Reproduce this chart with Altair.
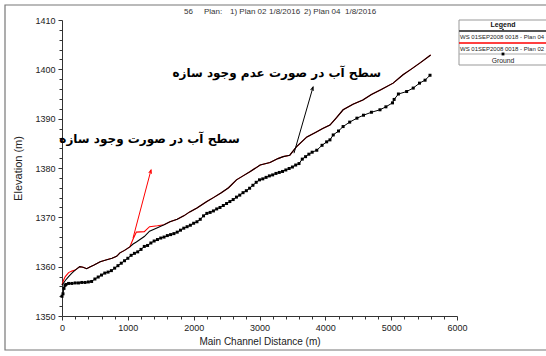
import altair as alt
import pandas as pd

# Water-surface profiles (distance in m, elevation in m)
ws_dist = [0, 25, 50, 100, 150, 200, 270, 320, 375, 430,
           480, 580, 680, 760, 830, 880, 950, 1030, 1080, 1130,
           1250, 1330, 1450, 1550, 1640, 1750, 1850, 1940, 2050, 2200,
           2300, 2420, 2530, 2650, 2750, 2860, 3010, 3160, 3280, 3360,
           3460, 3560, 3720, 3850, 3960, 4070, 4170, 4270, 4420, 4570,
           4700, 4850, 5030, 5180, 5300, 5450, 5600]
ws_plan04 = [1356.3, 1356.7, 1357.2, 1358.0, 1358.7, 1359.3, 1360.0, 1359.9, 1359.6, 1360.0,
             1360.3, 1361.0, 1361.4, 1361.7, 1362.1, 1362.8, 1363.3, 1364.0, 1364.6, 1365.0,
             1366.1, 1367.2, 1367.9, 1368.5, 1369.1, 1369.6, 1370.3, 1371.1, 1371.9, 1373.2,
             1374.0, 1375.0, 1376.0, 1377.6, 1378.4, 1379.3, 1380.6, 1381.1, 1381.9, 1382.3,
             1382.6, 1384.3, 1386.3, 1387.2, 1388.0, 1388.7, 1390.2, 1391.8, 1392.9, 1393.8,
             1394.9, 1395.9, 1397.2, 1398.9, 1400.0, 1401.4, 1402.9]
ws_plan02 = [1356.3, 1357.3, 1358.0, 1358.8, 1359.1, 1359.3, 1360.0, 1359.9, 1359.6, 1360.0,
             1360.3, 1361.0, 1361.4, 1361.7, 1362.1, 1362.8, 1363.3, 1364.0, 1365.6, 1367.0,
             1367.1, 1368.1, 1368.3, 1368.5, 1369.1, 1369.6, 1370.3, 1371.1, 1371.9, 1373.2,
             1374.0, 1375.0, 1376.0, 1377.6, 1378.4, 1379.3, 1380.6, 1381.1, 1381.9, 1382.3,
             1382.6, 1384.3, 1386.3, 1387.2, 1388.0, 1388.7, 1390.2, 1391.8, 1392.9, 1393.8,
             1394.9, 1395.9, 1397.2, 1398.9, 1400.0, 1401.4, 1402.9]

# Channel bed (ground) profile
ground_dist = [0, 15, 30, 45, 60,
               100, 150, 200, 250, 300, 350, 400, 450, 500, 550,
               600, 650, 700, 750, 800, 850, 900, 950, 1000, 1050,
               1100, 1150, 1200, 1250, 1300, 1350, 1400, 1450, 1500, 1550,
               1600, 1650, 1700, 1750, 1800, 1850, 1900, 1950, 2000, 2050,
               2100, 2150, 2200, 2250, 2300, 2350, 2400, 2450, 2500, 2550,
               2600, 2650, 2700, 2750, 2800, 2850, 2900, 2950, 3000, 3050,
               3100, 3150, 3200, 3250, 3300, 3350, 3400, 3450, 3500, 3550,
               3600, 3650, 3700, 3750, 3800,
               3870, 3950, 4020, 4070, 4120, 4200, 4270, 4370, 4480, 4580,
               4700, 4830, 4920, 5020, 5045, 5110, 5235, 5335, 5430, 5515,
               5590]
ground_elev = [1354.0, 1354.5, 1355.6, 1356.2, 1356.4,
               1356.6, 1356.6, 1356.7, 1356.7, 1356.8, 1356.8, 1356.9, 1357.0, 1357.5, 1357.9,
               1358.3, 1358.7, 1358.9, 1359.2, 1359.7, 1360.2, 1360.7, 1361.2, 1361.7, 1362.3,
               1362.7, 1363.0, 1363.5, 1364.1, 1364.3, 1364.8, 1365.2, 1365.5, 1365.8, 1366.0,
               1366.3, 1366.5, 1366.7, 1367.0, 1367.4, 1367.8, 1368.1, 1368.4, 1368.8, 1369.1,
               1369.6, 1370.3, 1370.8, 1371.0, 1371.3, 1371.7, 1372.0, 1372.4, 1372.8, 1373.2,
               1373.6, 1374.1, 1374.5, 1375.0, 1375.4, 1375.9, 1376.5, 1377.1, 1377.6, 1377.8,
               1378.1, 1378.4, 1378.6, 1378.9, 1379.1, 1379.3, 1379.6, 1379.9, 1380.2, 1380.6,
               1380.9, 1381.8, 1382.3, 1382.8, 1383.2,
               1383.6, 1384.6, 1385.3, 1385.7, 1386.7, 1387.5, 1388.4, 1389.3, 1390.1, 1390.7,
               1391.3, 1391.8, 1392.4, 1393.2, 1393.9, 1395.0, 1395.5, 1396.2, 1397.2, 1397.8,
               1398.8]

# Annotation arrows: tail -> head, in data units
arrow_x = [3524, 1079]
arrow_y = [1383.0, 1365.8]
arrow_x2 = [3813, 1352]
arrow_y2 = [1396.4, 1379.6]
arrow_angle = [17.6, 14.8]
arrow_color = ["#000000", "#ff0000"]

note_text = ["سطح آب در صورت عدم وجود سازه", "سطح آب در صورت وجود سازه"]
note_x = [3261, 1330]
note_y = [1399.2, 1385.9]

header_parts = ["56", "Plan:", "1) Plan 02", "1/8/2016", "2) Plan 04", "1/8/2016"]
header_left = [184, 204, 230, 269, 304, 345]

legend_labels = ["WS  01SEP2008 0018 - Plan 04", "WS  01SEP2008 0018 - Plan 02", "Ground"]

W, H = 395, 296
OX, OY = 62, 20  # plot origin inside the page

FONT = "Liberation Sans"
ARABIC_FONT = "DejaVu Sans"

ws04 = pd.DataFrame({"dist": ws_dist, "elev": ws_plan04})
ws02 = pd.DataFrame({"dist": ws_dist, "elev": ws_plan02})
ground = pd.DataFrame({"dist": ground_dist, "elev": ground_elev})
shafts = pd.DataFrame({"dist": arrow_x, "elev": arrow_y, "x2": arrow_x2, "y2": arrow_y2,
                       "color": arrow_color})
heads = pd.DataFrame({"dist": arrow_x2, "elev": arrow_y2, "angle": arrow_angle,
                      "color": arrow_color})
notes = pd.DataFrame({"text": note_text, "dist": note_x, "elev": note_y})

x_scale = alt.Scale(domain=[0, 6000], nice=False, zero=False)
y_scale = alt.Scale(domain=[1350, 1410], nice=False, zero=False)

x_axis = alt.Axis(
    title="Main Channel Distance (m)",
    values=list(range(0, 6001, 200)),
    labelExpr="datum.value % 1000 === 0 ? datum.label : ''",
    format="d",
    tickSize={"condition": {"test": "datum.value % 1000 === 0", "value": 4}, "value": 3},
    grid=False, labelOverlap=False, labelFlush=False,
    labelFont=FONT, labelFontSize=9, labelColor="#222", labelPadding=3,
    titleFont=FONT, titleFontSize=10, titleFontWeight="normal", titleColor="#222", titlePadding=4,
    domainColor="#333", tickColor="#333",
)
y_axis = alt.Axis(
    title="Elevation (m)",
    values=list(range(1350, 1411, 2)),
    labelExpr="datum.value % 10 === 0 ? datum.label : ''",
    format="d",
    tickSize={"condition": {"test": "datum.value % 10 === 0", "value": 4}, "value": 3},
    grid=False, labelOverlap=False, labelFlush=False,
    labelFont=FONT, labelFontSize=9, labelColor="#222", labelPadding=3,
    titleFont=FONT, titleFontSize=11, titleFontWeight="normal", titleColor="#222", titlePadding=11,
    domainColor="#333", tickColor="#333",
)

# Every data layer uses identical x/y definitions so the shared axes merge cleanly.
X = alt.X("dist:Q", scale=x_scale, axis=x_axis)
Y = alt.Y("elev:Q", scale=y_scale, axis=y_axis)

ground_line = alt.Chart(ground).mark_line(color="#000", strokeWidth=1).encode(x=X, y=Y)
ground_pts = alt.Chart(ground).mark_square(color="#000", size=9, opacity=1).encode(x=X, y=Y)
red_line = alt.Chart(ws02).mark_line(color="#ff0000", strokeWidth=1.1).encode(x=X, y=Y)
black_line = alt.Chart(ws04).mark_line(color="#000", strokeWidth=1.1).encode(x=X, y=Y)

arrow_shafts = alt.Chart(shafts).mark_rule(strokeWidth=1).encode(
    x=X, y=Y, x2="x2:Q", y2="y2:Q",
    color=alt.Color("color:N", scale=None),
)
arrow_heads = alt.Chart(heads).mark_point(
    shape="M -0.4 1 L 0 0 L 0.4 1", filled=False, size=50, strokeWidth=1, opacity=1
).encode(
    x=X, y=Y,
    angle=alt.Angle("angle:Q", scale=None),
    color=alt.Color("color:N", scale=None),
)
note_marks = alt.Chart(notes).mark_text(
    font=ARABIC_FONT, fontSize=12, fontWeight="bold", color="#000", align="center", baseline="middle"
).encode(x=X, y=Y, text="text:N")

one = pd.DataFrame({"k": [0]})


def px(x, y):
    """Page pixel position -> plot-area offsets."""
    return alt.value(x - OX), alt.value(y - OY)


def label(txt, x, y, size, weight="normal", align="left", color="#222"):
    vx, vy = px(x, y)
    return alt.Chart(one).mark_text(
        text=txt, font=FONT, fontSize=size, fontWeight=weight, align=align,
        baseline="middle", color=color
    ).encode(x=vx, y=vy)


def hline(x1, x2, y, color, width):
    vx, vy = px(x1, y)
    vx2, _ = px(x2, y)
    return alt.Chart(one).mark_rule(color=color, strokeWidth=width).encode(x=vx, x2=vx2, y=vy)


# outer frame
fx, fy = px(5, 5)
fx2, fy2 = px(560, 350)
frame = alt.Chart(one).mark_rect(fill=None, stroke="#777", strokeWidth=1.2).encode(
    x=fx, y=fy, x2=fx2, y2=fy2)

# header line
header = [label(t, xl, 12, 8, color="#333") for t, xl in zip(header_parts, header_left)]

# legend box
lx, ly = px(459, 20)
lx2, ly2 = px(547, 65)
legend_box = alt.Chart(one).mark_rect(fill="white", stroke="#999", strokeWidth=1).encode(
    x=lx, y=ly, x2=lx2, y2=ly2)
sqx, sqy = px(503, 54)
tkx, tky = px(503, 29.5)
legend_items = [
    legend_box,
    label("Legend", 503, 25, 7, weight="bold", align="center", color="#111"),
    hline(459, 547, 31, "#555", 2),
    alt.Chart(one).mark_square(color="#333", size=3, opacity=1).encode(x=tkx, y=tky),
    label(legend_labels[0], 460, 37, 6),
    hline(459, 547, 43, "#ff0000", 1.5),
    label(legend_labels[1], 460, 48.5, 6),
    hline(459, 547, 54, "#aaa", 1),
    alt.Chart(one).mark_square(color="#000", size=8, opacity=1).encode(x=sqx, y=sqy),
    label(legend_labels[2], 503, 60.5, 6.8, align="center"),
]

chart = alt.layer(
    ground_line, frame,
    ground_pts, red_line, black_line,
    arrow_shafts, arrow_heads, note_marks,
    *header, *legend_items,
).properties(
    width=W, height=H,
    autosize=alt.AutoSizeParams(type="none"),
    padding={"left": OX, "top": OY, "right": 546 - OX - W, "bottom": 356 - OY - H},
    background="white",
).configure_view(stroke=None)

chart.save("out.html", embed_options={"renderer": "svg", "actions": False})
